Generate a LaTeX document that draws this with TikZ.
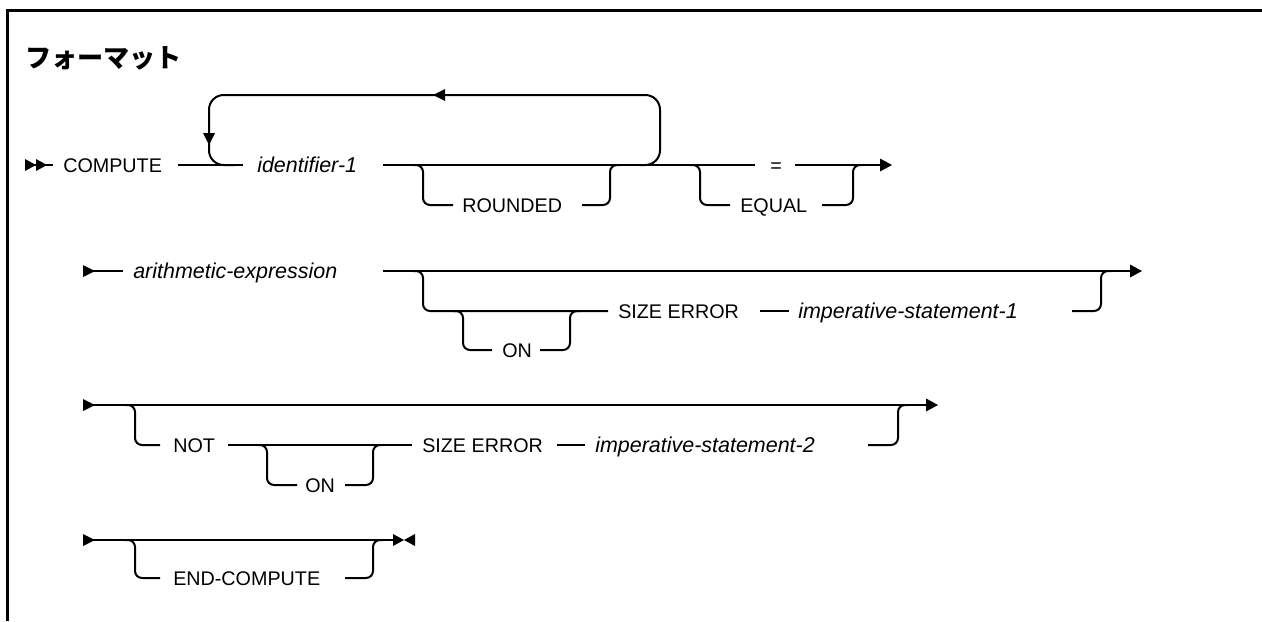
\documentclass[tikz,border=0pt]{standalone}
\usepackage{fontspec}
\setmainfont{Liberation Sans}
\newfontfamily\jpfont{Noto Sans CJK JP}
\begin{document}
\begin{tikzpicture}[x=0.75pt,y=-0.75pt,
  ln/.style={line width=1.5pt},
  br/.style={line width=1.5pt, rounded corners=5.25pt},
  loopline/.style={line width=1.5pt, rounded corners=11pt},
  kw/.style={anchor=base west, inner sep=0pt, font=\fontsize{14.8pt}{16pt}\selectfont},
  var/.style={anchor=base west, inner sep=0pt, font=\fontsize{16.1pt}{18pt}\selectfont\itshape},
  frame/.style={line width=2pt}]
\useasboundingbox (0,0) rectangle (1262,621);
% frame
\draw[frame] (7.5,621) -- (7.5,10.5) -- (1262,10.5);
% title
\node[anchor=base west, inner sep=0pt, font=\jpfont\bfseries\fontsize{19.6pt}{21pt}\selectfont] (title) at (25,67) {フォーマット};

% ---------- Row 1 ----------
\fill (25,159) -- (36,165) -- (25,171) -- cycle;
\fill (36,159) -- (47,165) -- (36,171) -- cycle;
\draw[ln] (25,165) -- (53,165);
\node[kw] (compute) at (63,172) {COMPUTE};
\draw[ln] (178,165) -- (243,165);
\node[var] (id1) at (257,172.5) {identifier-1};
\draw[ln] (383,165) -- (755,165);
% repeat loop
\draw[loopline] (640,165) -- (660,165) -- (660,95) -- (209,95) -- (209,165) -- (235,165);
\fill (203,133) -- (215,133) -- (209,145) -- cycle;
\fill (445,89) -- (433,95) -- (445,101) -- cycle;
% ROUNDED
\draw[br] (413,165) -- (423,165) -- (423,205) -- (453,205);
\node[kw] (rounded) at (462,212) {ROUNDED};
\draw[br] (582,205) -- (610,205) -- (610,165) -- (620,165);
% = / EQUAL
\node[kw] (eq) at (770,172) {=};
\draw[ln] (795,165) -- (882,165);
\fill (880,158.5) -- (892,165) -- (880,171.5) -- cycle;
\draw[br] (690,165) -- (700,165) -- (700,205) -- (730,205);
\node[kw] (equal) at (740,212) {EQUAL};
\draw[br] (822,205) -- (853,205) -- (853,165) -- (863,165);

% ---------- Row 2 ----------
\fill (83,265) -- (95,271) -- (83,277) -- cycle;
\draw[ln] (83,271) -- (123,271);
\node[var] (arith) at (133,278.5) {arithmetic-expression};
\draw[ln] (383,271) -- (1132,271);
\fill (1130,264.5) -- (1142,271) -- (1130,277.5) -- cycle;
\draw[br] (413,271) -- (423,271) -- (423,311) -- (608,311);
\draw[br] (453,311) -- (463,311) -- (463,350) -- (492,350);
\node[kw] (on1) at (502,357) {ON};
\draw[br] (540,350) -- (570,350) -- (570,311) -- (580,311);
\node[kw] (se1) at (618,318) {SIZE ERROR};
\draw[ln] (760,311) -- (789,311);
\node[var] (imp1) at (798,318.5) {imperative-statement-1};
\draw[br] (1072,311) -- (1101,311) -- (1101,271) -- (1111,271);

% ---------- Row 3 ----------
\fill (83,399) -- (95,405) -- (83,411) -- cycle;
\draw[ln] (83,405) -- (928,405);
\fill (926,398.5) -- (938,405) -- (926,411.5) -- cycle;
\draw[br] (125,405) -- (135,405) -- (135,445) -- (160,445);
\node[kw] (not) at (173,452) {NOT};
\draw[ln] (228,445) -- (412,445);
\draw[br] (257,445) -- (267,445) -- (267,485) -- (297,485);
\node[kw] (on2) at (305,492) {ON};
\draw[br] (345,485) -- (373,485) -- (373,445) -- (383,445);
\node[kw] (se2) at (422,452) {SIZE ERROR};
\draw[ln] (557,445) -- (585,445);
\node[var] (imp2) at (595,452.5) {imperative-statement-2};
\draw[br] (868,445) -- (898,445) -- (898,405) -- (908,405);

% ---------- Row 4 ----------
\fill (83,534) -- (95,540) -- (83,546) -- cycle;
\draw[ln] (83,540) -- (394,540);
\fill (393,534) -- (404,540) -- (393,546) -- cycle;
\fill (415,534) -- (404,540) -- (415,546) -- cycle;
\draw[br] (125,540) -- (135,540) -- (135,578) -- (160,578);
\node[kw] (endc) at (173,585) {END-COMPUTE};
\draw[br] (345,578) -- (373,578) -- (373,540) -- (383,540);
\end{tikzpicture}
\end{document}
